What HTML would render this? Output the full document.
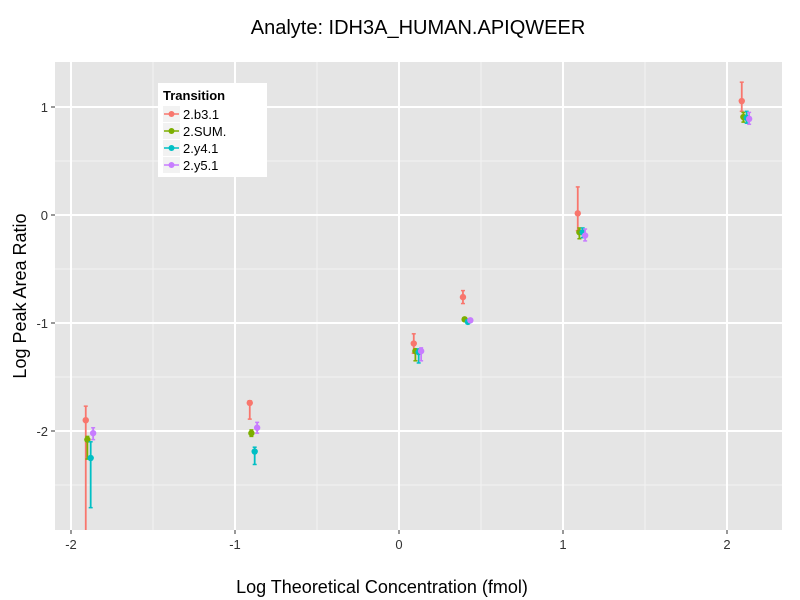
<!DOCTYPE html>
<html><head><meta charset="utf-8"><style>body{margin:0;background:#fff}svg{display:block;font-family:"Liberation Sans",sans-serif}</style></head>
<body>
<svg id="chart" width="800" height="600" xmlns="http://www.w3.org/2000/svg">
<defs><clipPath id="pc"><rect x="55" y="62" width="727" height="468"/></clipPath></defs>
<rect x="55" y="62" width="727" height="468" fill="#e5e5e5"/>
<g id="grid"></g>
<g id="marks" clip-path="url(#pc)"></g>
<g id="axes"></g>
<text x="418" y="34" text-anchor="middle" font-size="20" fill="#000">Analyte: IDH3A_HUMAN.APIQWEER</text>
<text x="382" y="593" text-anchor="middle" font-size="18" fill="#000">Log Theoretical Concentration (fmol)</text>
<text transform="translate(26,296) rotate(-90)" text-anchor="middle" font-size="18" fill="#000">Log Peak Area Ratio</text>
<g>
<rect x="158" y="83" width="109" height="94" fill="#fff"/>
<text x="163" y="100" font-size="13" font-weight="bold">Transition</text>
<g id="legend-items"></g>
</g>
</svg>
<script>
const seriesNames = ["2.b3.1","2.SUM.","2.y4.1","2.y5.1"];
const seriesColors = ["#F8766D","#7CAE00","#00BFC4","#C77CFF"];
const concentrations = [-1.9,-0.9,0.1,0.4,1.1,2.1];
const dodge = [-0.01,0.0,0.02,0.035];
const valuesB3 = [-1.90,-1.74,-1.19,-0.76,0.015,1.055];
const lowB3 = [-3.0,-1.89,-1.28,-0.82,-0.145,0.96];
const highB3 = [-1.77,-1.72,-1.10,-0.70,0.26,1.23];
const valuesSum = [-2.08,-2.02,-1.26,-0.966,-0.16,0.907];
const lowSum = [-2.26,-2.05,-1.35,-0.98,-0.22,0.86];
const highSum = [-2.05,-1.99,-1.24,-0.95,-0.12,0.95];
const valuesY4 = [-2.25,-2.19,-1.27,-0.99,-0.16,0.90];
const lowY4 = [-2.71,-2.31,-1.37,-1.0,-0.21,0.85];
const highY4 = [-2.10,-2.15,-1.24,-0.97,-0.12,0.96];
const valuesY5 = [-2.02,-1.97,-1.26,-0.975,-0.19,0.89];
const lowY5 = [-2.08,-2.02,-1.35,-0.99,-0.24,0.84];
const highY5 = [-1.97,-1.92,-1.23,-0.96,-0.13,0.95];
const xTicks = [-2,-1,0,1,2];
const yTicks = [1,0,-1,-2];
const xTickLabels = ["-2","-1","0","1","2"];
const yTickLabels = ["1","0","-1","-2"];

const NS="http://www.w3.org/2000/svg";
const xs = v => 399 + v*164;
const ys = v => 215 - v*108;
function mk(tag, attrs, parent){const e=document.createElementNS(NS,tag);for(const k in attrs)e.setAttribute(k,attrs[k]);parent.appendChild(e);return e;}
const grid=document.getElementById('grid'), marks=document.getElementById('marks'), axes=document.getElementById('axes');
for(let i=0;i<xTicks.length-1;i++){const x=xs(xTicks[i]+0.5);
 const l=mk('line',{x1:x,x2:x,y1:62,y2:530,stroke:'#f2f2f2','stroke-width':1},grid);
 
 }
for(let i=0;i<yTicks.length;i++){const y=ys(yTicks[i]-0.5);
 if(y>62&&y<530){const l=mk('line',{x1:55,x2:782,y1:y,y2:y,stroke:'#f2f2f2','stroke-width':1},grid);
 
 }}
xTicks.forEach((t,i)=>{const x=xs(t);
 const l=mk('line',{x1:x,x2:x,y1:62,y2:530,stroke:'#fff','stroke-width':2},grid);
 
 
 mk('line',{x1:x,x2:x,y1:530,y2:534,stroke:'#333'},axes);
 const tx=mk('text',{x:x,y:549,'text-anchor':'middle','font-size':13,fill:'#333'},axes);tx.textContent=xTickLabels[i];
 
 });
yTicks.forEach((t,i)=>{const y=ys(t);
 const l=mk('line',{x1:55,x2:782,y1:y,y2:y,stroke:'#fff','stroke-width':2},grid);
 
 
 mk('line',{x1:51,x2:55,y1:y,y2:y,stroke:'#333'},axes);
 const tx=mk('text',{x:48,y:y+5,'text-anchor':'end','font-size':13,fill:'#333'},axes);tx.textContent=yTickLabels[i];
 
 });
const vals=[valuesB3,valuesSum,valuesY4,valuesY5], lows=[lowB3,lowSum,lowY4,lowY5], highs=[highB3,highSum,highY4,highY5];
vals.forEach((arr,s)=>{const g=mk('g',{},marks);
 
 
 arr.forEach((v,i)=>{const x=xs(concentrations[i]+dodge[s]);const c=seriesColors[s];
  const y1=ys(highs[s][i]), y2=ys(lows[s][i]);
  mk('line',{x1:x,x2:x,y1:y1,y2:y2,stroke:c,'stroke-width':1.8},g);
  mk('line',{x1:x-2,x2:x+2,y1:y1,y2:y1,stroke:c,'stroke-width':1.5},g);
  mk('line',{x1:x-2,x2:x+2,y1:y2,y2:y2,stroke:c,'stroke-width':1.5},g);
  const p=mk('circle',{cx:x,cy:ys(v),r:3.2,fill:c},g);
  
  });});
const li=document.getElementById('legend-items');
seriesNames.forEach((n,i)=>{const y=114+i*17;
 const g=mk('g',{},li);
 
 
 mk('rect',{x:163,y:y-8,width:17,height:16,fill:'#f2f2f2'},g);
 mk('line',{x1:164,x2:179,y1:y,y2:y,stroke:seriesColors[i],'stroke-width':1.5},g);
 mk('circle',{cx:171.5,cy:y,r:3,fill:seriesColors[i]},g);
 const t=mk('text',{x:183,y:y+5,'font-size':13},g);t.textContent=n;});
</script>
</body></html>
